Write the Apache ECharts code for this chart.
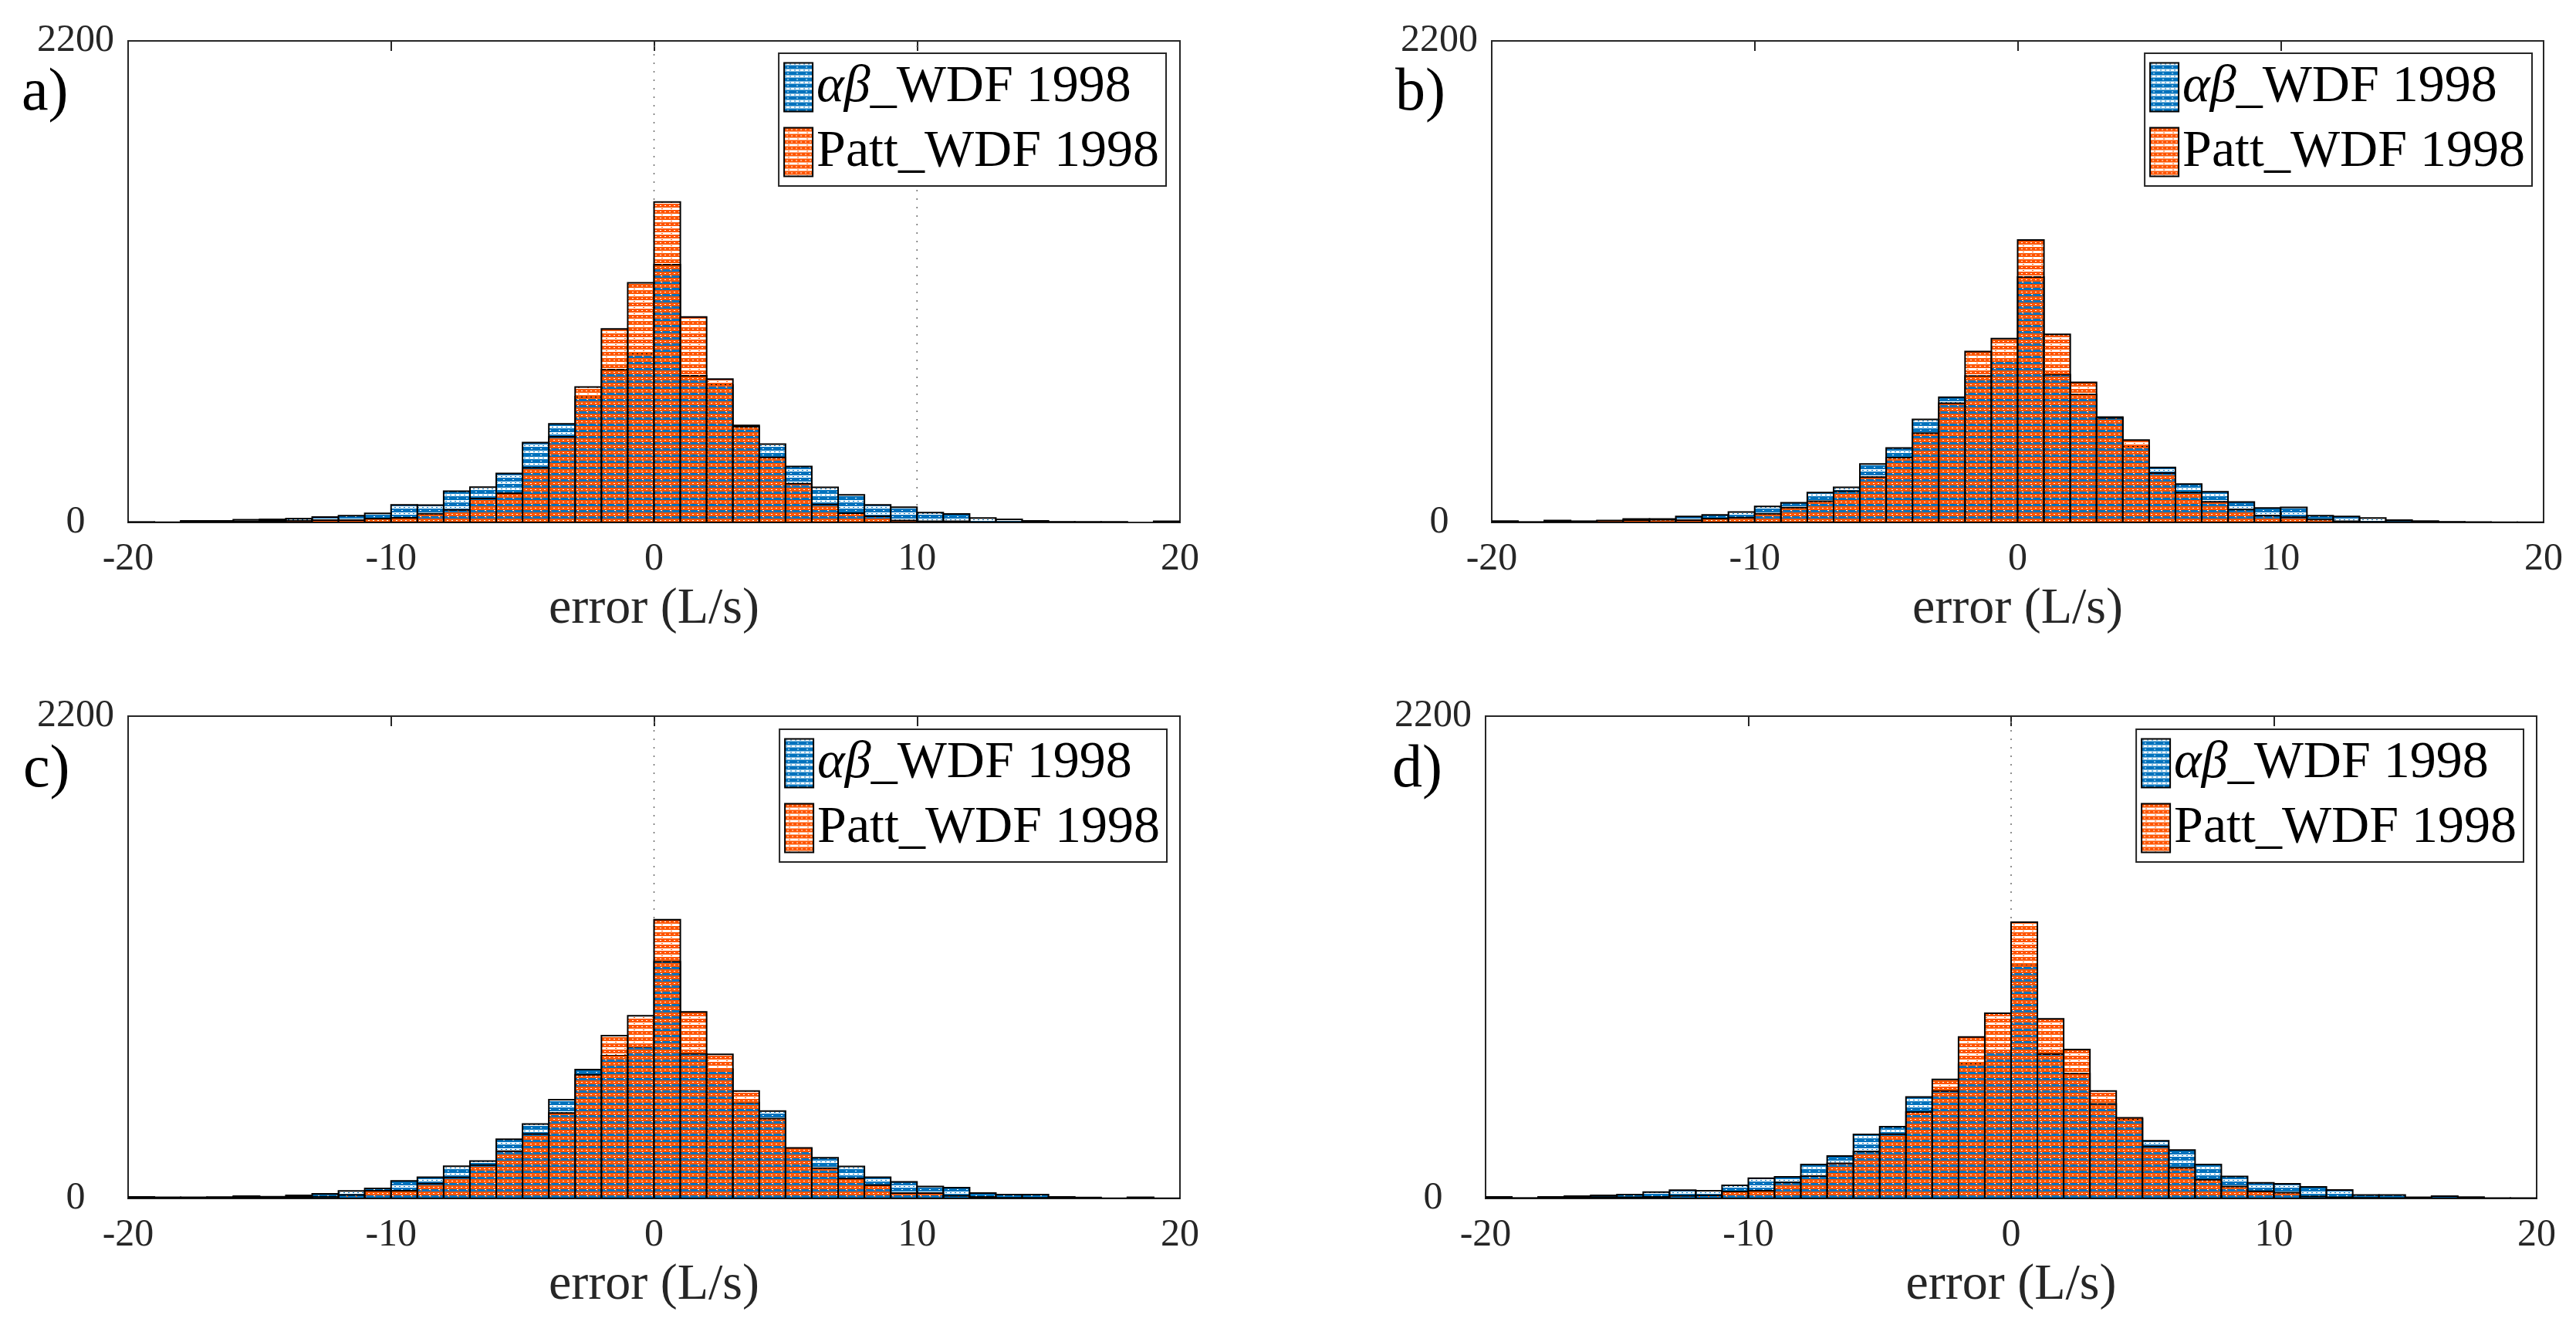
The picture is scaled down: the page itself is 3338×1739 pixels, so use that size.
<!DOCTYPE html>
<html>
<head>
<meta charset="utf-8">
<script src="https://cdn.jsdelivr.net/npm/echarts@6/dist/echarts.min.js"></script>
<style>
html,body{margin:0;padding:0;background:#fff;}
#chart{width:3338px;height:1739px;}
</style>
</head>
<body>
<div id="chart"></div>
<script>
// ---------------- data ----------------
const binLeft = [-20,-19,-18,-17,-16,-15,-14,-13,-12,-11,-10,-9,-8,-7,-6,-5,-4,-3,-2,-1,0,1,2,3,4,5,6,7,8,9,10,11,12,13,14,15,16,17,18,19];
const seriesNames = ['αβ_WDF 1998', 'Patt_WDF 1998'];
const panelLabels = ['a)', 'b)', 'c)', 'd)'];
const xMin = -20, xMax = 20, xStep = 10;
const yMin = 0, yMax = 2200;
const xAxisName = 'error (L/s)';

// panel a
const abA   = [2,1,7,7,12,14,18,25,31,41,80,79,143,161,224,365,450,575,698,769,1178,670,628,443,358,256,160,126,80,70,45,39,20,14,7,3,3,3,0,5];
const pattA = [1,0,3,3,5,7,8,11,11,18,21,40,57,109,133,249,391,619,884,1095,1464,939,655,437,297,177,82,42,28,9,5,5,2,2,1,1,0,0,0,1];
// panel b
const abB   = [6,2,9,5,7,16,16,27,34,48,73,90,137,160,267,340,471,572,669,747,1121,675,584,478,349,251,175,140,93,66,69,31,27,20,11,6,3,2,1,1];
const pattB = [3,1,4,4,9,11,12,11,18,22,40,68,97,143,207,296,408,545,781,840,1290,859,640,481,376,226,137,94,59,31,24,13,5,3,2,1,1,0,0,0];
// panel c
const abC   = [7,5,3,6,11,8,14,21,34,46,80,97,147,171,270,340,451,588,651,692,1080,660,590,437,399,225,186,146,97,76,55,49,25,18,18,7,4,1,5,1];
const pattC = [3,2,5,4,5,4,7,8,16,35,35,68,96,152,216,294,390,564,743,833,1272,851,657,490,364,231,138,91,61,25,25,12,7,3,3,1,1,0,1,0];
// panel d
const abD   = [7,2,7,11,14,18,29,38,35,60,92,99,155,194,292,327,463,490,613,676,1062,658,569,431,363,263,221,155,100,71,67,53,39,16,16,5,11,6,2,2];
const pattD = [3,1,3,4,6,5,7,12,14,32,35,73,102,160,214,293,394,543,737,845,1260,819,679,490,368,237,140,85,55,33,26,9,5,3,2,1,1,0,0,0];

const dottedLines = [[0, 10], [], [0], [0]];

// ---------------- layout / style ----------------
const panels = [
  {grid:{left:166, top:53, width:1363, height:624}, label:{x:28, y:128}, legend:{right:1827, top:69}, ab:abA, patt:pattA},
  {grid:{left:1933, top:53, width:1363, height:624}, label:{x:1808, y:128}, legend:{right:57, top:69}, ab:abB, patt:pattB},
  {grid:{left:166, top:928, width:1363, height:625}, label:{x:30, y:1005}, legend:{right:1826, top:945}, ab:abC, patt:pattC},
  {grid:{left:1925, top:928, width:1362, height:625}, label:{x:1804, y:1005}, legend:{right:68, top:945}, ab:abD, patt:pattD}
];

const FONT = 'Liberation Serif';
const BLUE = '#0072BD';
const ORANGE = '#FF5500';
const AXC = '#262626';

function makePattern(color, kind) {
  const c = document.createElement('canvas');
  c.width = 12; c.height = 8;
  const g = c.getContext('2d');
  g.fillStyle = color;
  if (kind === 'blue') {
    g.fillRect(0, 3, 12, 5);
    g.fillRect(1, 1, 2, 1);
    g.fillRect(7, 1, 2, 1);
    g.clearRect(4, 5, 2, 1);
  } else {
    g.fillRect(0, 0, 12, 5);
    g.clearRect(3, 2, 2, 1);
    g.clearRect(9, 2, 2, 1);
    g.fillRect(5, 6, 2, 1);
  }
  return {image: c, repeat: 'repeat'};
}
const patBlue = makePattern(BLUE, 'blue');
const patOrange = makePattern(ORANGE, 'orange');

function histRenderer(pattern) {
  return function (params, api) {
    const k = api.value(0), h = api.value(1);
    if (!(h > 0)) return;
    const p0 = api.coord([k, 0]);
    const p1 = api.coord([k + 1, h]);
    return {
      type: 'rect',
      shape: {x: p0[0], y: p1[1], width: p1[0] - p0[0], height: p0[1] - p1[1]},
      style: {fill: pattern, stroke: '#000', lineWidth: 2}
    };
  };
}
function vlineRenderer(params, api) {
  const x = api.value(0);
  const p0 = api.coord([x, yMin]);
  const p1 = api.coord([x, yMax]);
  return {
    type: 'line',
    shape: {x1: p0[0], y1: p0[1], x2: p1[0], y2: p1[1]},
    style: {stroke: '#6e6e6e', lineWidth: 1.5, lineDash: [2, 9]}
  };
}

const grid = [], xAxis = [], yAxis = [], series = [], legend = [], graphic = [];
panels.forEach((p, i) => {
  grid.push(Object.assign({show: true, borderColor: AXC, borderWidth: 2, backgroundColor: '#fff'}, p.grid));
  xAxis.push({
    type: 'value', gridIndex: i, min: xMin, max: xMax, interval: xStep, position: 'bottom',
    name: xAxisName, nameLocation: 'middle', nameGap: 80,
    nameTextStyle: {fontFamily: FONT, fontSize: 66, color: AXC},
    axisLine: {show: true, onZero: false, lineStyle: {color: AXC, width: 2}},
    axisTick: {show: true, inside: true, length: 13, lineStyle: {color: AXC, width: 2}},
    axisLabel: {fontFamily: FONT, fontSize: 50, color: AXC, margin: 23, formatter: v => String(v)},
    splitLine: {show: false}
  });
  xAxis.push({
    type: 'value', gridIndex: i, min: xMin, max: xMax, interval: xStep, position: 'top',
    axisLine: {show: true, onZero: false, lineStyle: {color: AXC, width: 2}},
    axisTick: {show: true, inside: true, length: 13, lineStyle: {color: AXC, width: 2}},
    axisLabel: {show: false}, splitLine: {show: false}
  });
  yAxis.push({
    type: 'value', gridIndex: i, min: yMin, max: yMax, interval: yMax - yMin, position: 'left',
    axisLine: {show: true, onZero: false, lineStyle: {color: AXC, width: 2}},
    axisTick: {show: false},
    axisLabel: {fontFamily: FONT, fontSize: 50, color: AXC, align: 'center', margin: 68, formatter: v => String(v)},
    splitLine: {show: false}
  });
  const lines = dottedLines[i];
  if (lines.length) {
    series.push({
      type: 'custom', name: 'grid' + i, xAxisIndex: 2 * i, yAxisIndex: i, z: 1,
      renderItem: vlineRenderer, data: lines.map(v => [v]), encode: {x: 0}, silent: true
    });
  }
  series.push({
    type: 'custom', name: seriesNames[0], xAxisIndex: 2 * i, yAxisIndex: i, z: 2, clip: true,
    itemStyle: {color: patBlue, borderColor: '#000', borderWidth: 2},
    renderItem: histRenderer(patBlue),
    data: binLeft.map((k, j) => [k, p.ab[j]]), encode: {x: 0, y: 1}
  });
  series.push({
    type: 'custom', name: seriesNames[1], xAxisIndex: 2 * i, yAxisIndex: i, z: 3, clip: true,
    itemStyle: {color: patOrange, borderColor: '#000', borderWidth: 2},
    renderItem: histRenderer(patOrange),
    data: binLeft.map((k, j) => [k, p.patt[j]]), encode: {x: 0, y: 1}
  });
  legend.push({
    right: p.legend.right, top: p.legend.top, orient: 'vertical',
    selectedMode: false, icon: 'rect', itemWidth: 37, itemHeight: 63, itemGap: 16,
    padding: [10, 9, 10, 6], borderColor: AXC, borderWidth: 2, backgroundColor: '#fff',
    itemStyle: {borderColor: '#000', borderWidth: 2},
    data: [
      {name: seriesNames[0], itemStyle: {color: patBlue, borderColor: '#000', borderWidth: 2}},
      {name: seriesNames[1], itemStyle: {color: patOrange, borderColor: '#000', borderWidth: 2}}
    ],
    formatter: function (name) {
      if (name.indexOf('αβ') === 0) return '{i|αβ}' + name.slice(2);
      return name;
    },
    textStyle: {
      fontFamily: FONT, fontSize: 68, color: '#000',
      rich: {i: {fontFamily: FONT, fontSize: 68, fontStyle: 'italic', color: '#000'}}
    }
  });
  graphic.push({
    type: 'text', left: p.label.x, top: p.label.y - 45,
    style: {text: panelLabels[i], fontFamily: FONT, fontSize: 78, fill: '#000'}
  });
});

const chart = echarts.init(document.getElementById('chart'), null, {renderer: 'canvas'});
chart.setOption({
  backgroundColor: '#fff',
  animation: false,
  grid, xAxis, yAxis, series, legend, graphic
});
</script>
</body>
</html>
